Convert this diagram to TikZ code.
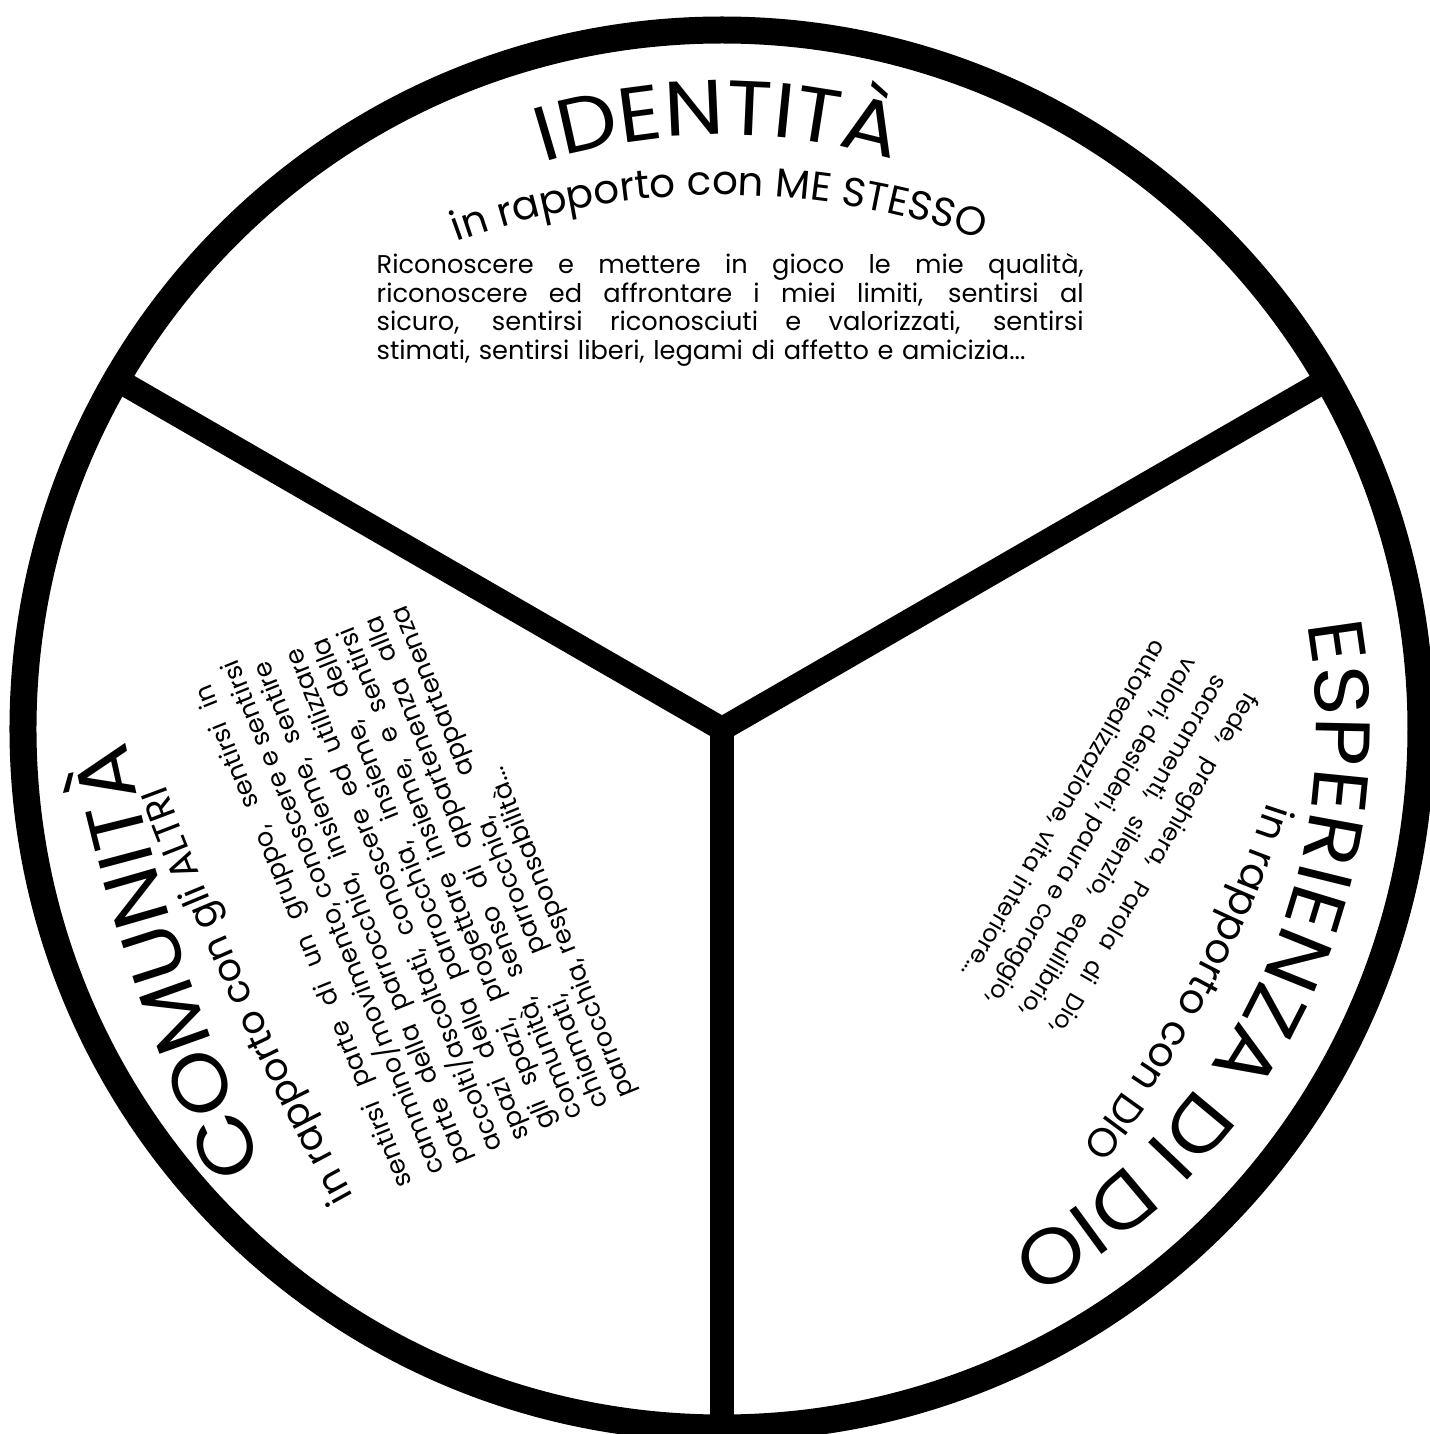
\documentclass[tikz,border=0pt]{standalone}
\usepackage{fontspec}
\setmainfont{Poppins}
\newfontfamily\titlefam[FakeStretch=1.1]{Poppins}
\usepackage{tikz}
\usetikzlibrary{calc,decorations.text}

\newcommand{\titlefont}{\titlefam\fontsize{22}{22}\selectfont}
\newcommand{\subfont}{\fontsize{11.5}{11.5}\selectfont}
% riga giustificata
\newcommand{\jl}[1]{\makebox[\linewidth][s]{\spaceskip=\fontdimen2\font plus 1fil\relax #1}\\}

\begin{document}
\begin{tikzpicture}[
    ring/.style={line width=0.27cm},
    spoke/.style={line width=0.24cm, line join=miter},
    body/.style={inner sep=0pt, align=left, font=\fontsize{7.3}{8.1}\selectfont},
    arctitle/.style={decorate, decoration={text along path, text align=center, text={|\titlefont|#1}}},
    arcleft/.style={decorate, decoration={text along path, text={|\titlefont|#1}}},
    arcsub/.style={decorate, decoration={text along path, text={|\subfont|#1}}}
    ]
    %cadre
    \useasboundingbox (-7.22,-7.05) rectangle (7.08,7.29);
    \fill[white] (-7.22,-7.05) rectangle (7.08,7.29);

    \coordinate (hub) at (0,0);
    \coordinate (rimL) at (150:6.99);
    \coordinate (rimR) at (30:6.99);
    \coordinate (rimB) at (270:6.99);
    \draw[ring] (hub) circle (6.99);
    \draw[spoke] (rimL) -- (hub) -- (rimR);
    \draw[spoke] (hub) -- (rimB);

    % titoli
    \path[arctitle={IDENTITÀ}] (135.4:5.94) arc[start angle=135.4, end angle=45.4, radius=5.94];
    \path[arcleft={COMUNITÀ}] (-4.58,-4.36) arc[start angle=204.5, delta angle=-20, radius=20];
    \path[arctitle={ESPERIENZA DI DIO}] (19.5:5.94) arc[start angle=19.5, end angle=-70.5, radius=5.94];

    % sottotitoli
    \path[arcsub={in rapporto con ME STESSO}] ($(0,-2.41)+(110:7.75)$) arc[start angle=110, end angle=60, radius=7.75];
    \path[arcsub={|\fontsize{10.8}{10.8}\selectfont|in rapporto con gli ALTRI}] (-3.68,-4.67) arc[start angle=209, delta angle=-12, radius=30];
    \path[arcsub={in rapporto con DIO}] (5.45,-0.73) arc[start angle=342, delta angle=-30, radius=11];

    % testi
    \node[body, text width=7.07cm, anchor=north west] (identita) at (-3.46,4.76)
      {\jl{Riconoscere e mettere in gioco le mie qualità,}\jl{riconoscere ed affrontare i miei limiti, sentirsi al}\jl{sicuro, sentirsi riconosciuti e valorizzati, sentirsi}\mbox{stimati, sentirsi liberi, legami di affetto e amicizia...}};
    \node[body, text width=5.4cm, rotate=112, anchor=north west] (comunita) at (-3.28,-4.63)
      {\jl{sentirsi parte di un gruppo, sentirsi in}\jl{cammino/movimento, conoscere e sentirsi}\jl{parte della parrocchia, insieme, sentire}\jl{accolti/ascoltati, conoscere ed utilizzare}\jl{spazi della parrocchia, insieme, della}\jl{gli spazi, progettare insieme, e sentirsi}\jl{comunità, senso di appartenenza alla}\jl{chiamati, parrocchia, appartenenza}\mbox{parrocchia, responsabilità...}};
    \node[body, text width=3.9cm, rotate=-120, anchor=north west, font=\fontsize{6.8}{10}\selectfont] (dio) at (5.40,0.29)
      {\jl{fede, preghiera, Parola di Dio,}\jl{sacramenti, silenzio, equilibrio,}\jl{valori, desideri, paura e coraggio,}\mbox{autorealizzazione, vita interiore...}};
\end{tikzpicture}
\end{document}
